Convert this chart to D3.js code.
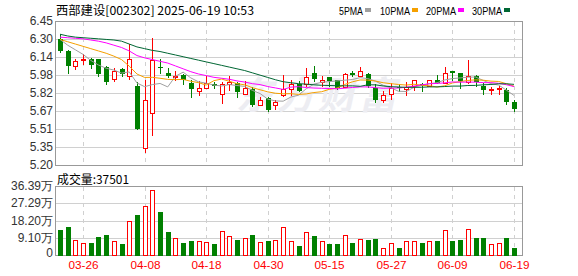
<!DOCTYPE html>
<html>
<head>
<meta charset="utf-8">
<script src="https://cdn.jsdelivr.net/npm/d3@7/dist/d3.min.js"></script>
<style>
  body { margin: 0; background: #fff; }
  svg { display: block; }
</style>
</head>
<body>
<div id="chart"></div>
<script>
// trading days shown
const dates = ["03-21","03-24","03-25","03-26","03-27","03-28","03-31","04-01","04-02","04-03",
  "04-07","04-08","04-09","04-10","04-11","04-14","04-15","04-16","04-17","04-18",
  "04-21","04-22","04-23","04-24","04-25","04-28","04-29","04-30","05-06","05-07",
  "05-08","05-09","05-12","05-13","05-14","05-15","05-16","05-19","05-20","05-21",
  "05-22","05-23","05-26","05-27","05-28","05-29","05-30","06-03","06-04","06-05",
  "06-06","06-09","06-10","06-11","06-12","06-13","06-16","06-17","06-18","06-19"];

const open = [6.29,6.19,6.06,6.11,6.12,6.12,6.05,5.95,6.03,5.97,
  5.89,5.35,5.65,6.05,6.00,5.97,5.98,5.91,5.84,5.87,
  5.90,5.82,5.90,5.91,5.82,5.86,5.72,5.78,5.72,5.81,
  5.86,5.90,5.90,6.00,5.92,5.96,5.94,5.88,6.00,5.97,
  5.99,5.87,5.76,5.82,5.88,5.86,5.89,5.90,5.89,5.94,
  5.91,6.02,6.00,5.92,5.97,5.89,5.85,5.86,5.85,5.75];
const high = [6.34,6.20,6.12,6.16,6.13,6.12,6.06,6.04,6.04,6.25,
  5.92,5.94,6.30,6.12,6.04,6.02,5.99,5.94,5.93,5.97,
  5.92,5.92,5.97,5.92,5.93,5.88,5.79,5.79,5.76,5.98,
  5.94,5.93,6.04,6.06,5.97,5.96,5.94,6.00,6.02,6.05,
  6.00,5.90,5.84,5.91,5.90,5.92,5.94,5.91,5.94,5.98,
  6.05,6.02,6.00,6.11,5.98,5.91,5.88,5.89,5.87,5.76];
const low = [6.18,6.00,6.03,6.08,6.04,5.97,5.90,5.93,5.97,5.95,
  5.51,5.31,5.46,6.00,5.96,5.94,5.90,5.79,5.81,5.87,
  5.87,5.74,5.85,5.79,5.82,5.71,5.72,5.67,5.69,5.80,
  5.81,5.84,5.89,5.93,5.89,5.89,5.86,5.88,5.97,5.97,
  5.88,5.75,5.75,5.77,5.84,5.81,5.85,5.84,5.89,5.91,
  5.91,5.94,5.87,5.91,5.89,5.82,5.82,5.82,5.73,5.67];
const close = [6.19,6.06,6.10,6.12,6.07,5.99,5.92,6.02,5.99,6.12,
  5.51,5.76,6.11,6.04,5.97,5.97,5.94,5.86,5.87,5.91,
  5.89,5.90,5.92,5.83,5.87,5.72,5.76,5.68,5.75,5.86,
  5.90,5.84,5.96,5.95,5.94,5.93,5.87,5.99,5.98,6.02,
  5.89,5.76,5.81,5.87,5.87,5.88,5.94,5.89,5.94,5.91,
  6.00,6.00,5.93,5.97,5.92,5.85,5.86,5.87,5.75,5.69];

// volume in 万 shares
const volume = [13.4,15.0,7.9,6.2,6.4,9.6,10.7,7.3,5.9,18.0,
  20.9,26.0,34.1,22.5,12.3,8.9,6.4,7.5,7.3,6.8,
  5.9,12.7,10.0,8.0,8.9,10.7,7.0,7.5,7.9,14.8,
  7.5,4.8,12.1,10.2,7.3,5.9,5.9,10.5,6.4,8.4,
  8.0,8.6,3.6,6.2,3.7,7.3,7.3,6.4,7.3,7.5,
  13.2,7.5,8.0,13.7,9.1,9.1,5.7,6.2,9.1,3.75];

const ma5 = [6.29,6.24,6.20,6.16,6.108,6.068,6.04,6.024,5.998,6.008,
  5.912,5.88,5.898,5.908,5.878,5.97,6.006,5.956,5.922,5.91,
  5.894,5.886,5.898,5.89,5.882,5.848,5.82,5.772,5.756,5.754,
  5.79,5.806,5.862,5.902,5.918,5.924,5.93,5.936,5.942,5.958,
  5.95,5.928,5.892,5.87,5.84,5.838,5.874,5.892,5.906,5.914,
  5.938,5.95,5.956,5.962,5.964,5.934,5.906,5.894,5.85,5.804];
const ma10 = [6.29,6.27,6.25,6.23,6.21,6.19,6.17,6.145,6.115,6.058,
  5.99,5.96,5.961,5.953,5.943,5.941,5.943,5.927,5.915,5.894,
  5.932,5.946,5.927,5.906,5.896,5.871,5.853,5.835,5.823,5.818,
  5.819,5.813,5.817,5.829,5.836,5.857,5.868,5.899,5.922,5.938,
  5.937,5.929,5.914,5.906,5.899,5.894,5.901,5.892,5.888,5.877,
  5.888,5.912,5.924,5.934,5.939,5.936,5.928,5.925,5.906,5.884];
const ma20 = [6.31,6.305,6.30,6.295,6.285,6.275,6.26,6.24,6.22,6.19,
  6.15,6.13,6.115,6.10,6.085,6.06,6.035,6.01,5.99,5.976,
  5.961,5.953,5.944,5.93,5.92,5.906,5.898,5.881,5.869,5.856,
  5.876,5.88,5.872,5.868,5.866,5.864,5.861,5.867,5.873,5.878,
  5.878,5.871,5.866,5.868,5.868,5.876,5.885,5.896,5.905,5.908,
  5.913,5.921,5.919,5.92,5.919,5.915,5.915,5.909,5.897,5.881];
const ma30 = [6.335,6.32,6.31,6.305,6.30,6.295,6.29,6.285,6.275,6.25,
  6.225,6.21,6.195,6.185,6.17,6.155,6.14,6.125,6.11,6.095,
  6.08,6.065,6.05,6.035,6.02,6.00,5.98,5.96,5.94,5.923,
  5.914,5.906,5.902,5.896,5.892,5.89,5.888,5.887,5.887,5.883,
  5.896,5.896,5.886,5.88,5.877,5.874,5.874,5.875,5.878,5.878,
  5.881,5.885,5.885,5.89,5.891,5.896,5.899,5.905,5.905,5.90];

const dateTicks = ["03-26","04-08","04-18","04-30","05-15","05-27","06-09","06-19"];
const priceLabels = ["6.45","6.30","6.14","5.98","5.82","5.67","5.51","5.35","5.20"];
const volLabels = ["36.39万","27.29万","18.20万","9.10万","0"];

const maNames = ["5PMA","10PMA","20PMA","30PMA"];
const maColors = ["#a0a0a0","#f5a000","#ff00ff","#006633"];
const maSeries = [ma5, ma10, ma20, ma30];

const RED = "#ff0000", GREEN = "#008000";
const gridColor = "#d0d0d0", borderColor = "#999";

var svg = d3.select("#chart").append("svg")
  .attr("width", 578).attr("height", 276)
  .style("font-family", "'Liberation Sans', Arial, sans-serif");

var left = 55, right = 522;
var x = d3.scalePoint().domain(dates).range([60, 514]);
var y = d3.scaleLinear().domain([5.20, 6.45]).range([165, 21]);
var vy = d3.scaleLinear().domain([0, 36.39]).range([255, 186]);

var px = function(d) { return Math.round(x(d)); };

// header
svg.append("text")
  .attr("x", 56).attr("y", 15)
  .attr("textLength", 198).attr("lengthAdjust", "spacingAndGlyphs")
  .style("font-family", "'Noto Sans CJK SC', sans-serif")
  .style("font-size", "12px").attr("fill", "#000")
  .text("西部建设[002302] 2025-06-19 10:53");

// legend
var legX = [339, 380, 426, 472];
maNames.forEach(function(n, i) {
  var w = n.length * 6;
  svg.append("text")
    .attr("x", legX[i]).attr("y", 15)
    .attr("textLength", w).attr("lengthAdjust", "spacingAndGlyphs")
    .style("font-size", "11px").attr("fill", "#000")
    .text(n);
  svg.append("rect")
    .attr("x", legX[i] + w + 2).attr("y", 8)
    .attr("width", 6).attr("height", 4)
    .attr("fill", maColors[i]);
});

// ---- price panel ----
var g = svg.append("g").attr("shape-rendering", "crispEdges");

priceLabels.forEach(function(t, i) {
  var v = 6.45 - i * (6.45 - 5.20) / (priceLabels.length - 1);
  var yy = Math.round(y(v)) + 0.5;
  if (i > 0 && i < priceLabels.length - 1) {
    g.append("line").attr("x1", left).attr("x2", right)
      .attr("y1", yy).attr("y2", yy)
      .attr("stroke", gridColor);
  }
  svg.append("text")
    .attr("x", 53).attr("y", y(v))
    .attr("text-anchor", "end").attr("dominant-baseline", "central")
    .style("font-size", "12px").attr("fill", "#333")
    .text(t);
});

dateTicks.forEach(function(d) {
  var xx = px(d) + 0.5;
  g.append("line").attr("x1", xx).attr("x2", xx)
    .attr("y1", 22).attr("y2", 165)
    .attr("stroke", gridColor).attr("stroke-dasharray", "4,4");
  g.append("line").attr("x1", xx).attr("x2", xx)
    .attr("y1", 187).attr("y2", 255)
    .attr("stroke", gridColor).attr("stroke-dasharray", "4,4");
  svg.append("text")
    .attr("x", xx).attr("y", 265)
    .attr("text-anchor", "middle").attr("dominant-baseline", "central")
    .attr("textLength", 30).attr("lengthAdjust", "spacingAndGlyphs")
    .style("font-size", "11px").attr("fill", RED)
    .text(d);
});

// watermark
svg.append("text")
  .attr("x", 318).attr("y", 109)
  .attr("text-anchor", "middle")
  .attr("transform", "translate(23,0) skewX(-12)")
  .style("font-family", "'Noto Sans CJK SC', sans-serif")
  .style("font-size", "38px").style("font-weight", "bold")
  .style("letter-spacing", "3px")
  .attr("fill", "#ededf2")
  .text("东方财富");

// candles
var idx = d3.range(dates.length);
var cg = svg.append("g").attr("shape-rendering", "crispEdges");

cg.selectAll("line.wick").data(idx).enter().append("line")
  .attr("class", "wick")
  .attr("x1", function(i) { return px(dates[i]) + 0.5; })
  .attr("x2", function(i) { return px(dates[i]) + 0.5; })
  .attr("y1", function(i) { return Math.round(y(high[i])); })
  .attr("y2", function(i) { return Math.round(y(low[i])) + 1; })
  .attr("stroke", function(i) { return close[i] >= open[i] ? RED : GREEN; });

cg.selectAll("rect.body").data(idx).enter().append("rect")
  .attr("class", "body")
  .each(function(i) {
    var up = close[i] >= open[i];
    var top = Math.round(y(Math.max(open[i], close[i])));
    var bot = Math.round(y(Math.min(open[i], close[i])));
    var c = px(dates[i]);
    var el = d3.select(this);
    if (up) {
      el.attr("x", c - 1.5).attr("y", top + 0.5)
        .attr("width", 4).attr("height", Math.max(bot - top, 1))
        .attr("fill", "#fff").attr("stroke", RED);
    } else {
      el.attr("x", c - 2).attr("y", top)
        .attr("width", 5).attr("height", Math.max(bot - top, 1))
        .attr("fill", GREEN);
    }
  });

// moving averages
maSeries.forEach(function(s, k) {
  var line = d3.line()
    .x(function(v, i) { return x(dates[i]); })
    .y(function(v) { return y(v); });
  svg.append("path").datum(s)
    .attr("d", line)
    .attr("fill", "none")
    .attr("stroke", maColors[k])
    .attr("stroke-width", 1);
});

// border
g.append("rect").attr("x", left + 0.5).attr("y", 21.5)
  .attr("width", right - left).attr("height", 144)
  .attr("fill", "none").attr("stroke", borderColor);

// ---- volume panel ----
svg.append("text")
  .attr("x", 57).attr("y", 178)
  .attr("dominant-baseline", "central")
  .attr("textLength", 72).attr("lengthAdjust", "spacingAndGlyphs")
  .style("font-family", "'Noto Sans CJK SC', sans-serif")
  .style("font-size", "12px").attr("fill", "#000")
  .text("成交量:37501");

volLabels.forEach(function(t, i) {
  var v = 36.39 - i * 36.39 / (volLabels.length - 1);
  var yy = Math.round(vy(v)) + 0.5;
  if (i > 0 && i < volLabels.length - 1) {
    g.append("line").attr("x1", left).attr("x2", right)
      .attr("y1", yy).attr("y2", yy)
      .attr("stroke", gridColor);
  }
  svg.append("text")
    .attr("x", 53).attr("y", i == volLabels.length - 1 ? vy(v) - 2 : vy(v))
    .attr("text-anchor", "end").attr("dominant-baseline", "central")
    .style("font-size", "12px").attr("fill", "#333")
    .text(t);
});

var vg = svg.append("g").attr("shape-rendering", "crispEdges");
vg.selectAll("rect").data(idx).enter().append("rect")
  .each(function(i) {
    var up = close[i] >= open[i];
    var top = Math.round(vy(volume[i]));
    var c = px(dates[i]);
    var el = d3.select(this);
    if (up) {
      el.attr("x", c - 1.5).attr("y", top + 0.5)
        .attr("width", 4).attr("height", 255 - top)
        .attr("fill", "#fff").attr("stroke", RED);
    } else {
      el.attr("x", c - 2).attr("y", top)
        .attr("width", 5).attr("height", 256 - top)
        .attr("fill", GREEN);
    }
  });

g.append("rect").attr("x", left + 0.5).attr("y", 186.5)
  .attr("width", right - left).attr("height", 69)
  .attr("fill", "none").attr("stroke", borderColor);
</script>
</body>
</html>
